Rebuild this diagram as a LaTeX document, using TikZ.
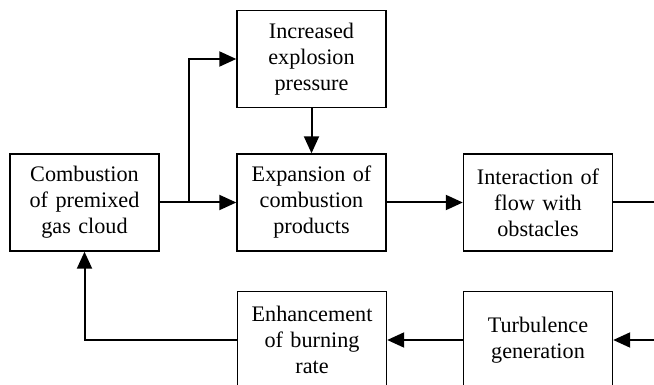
\documentclass[tikz,border=0pt]{standalone}
\usepackage{fontspec}
\setmainfont{Liberation Serif}
\usetikzlibrary{arrows.meta}
\begin{document}
\begin{tikzpicture}[x=1pt,y=-1pt,
  stagebox/.style={draw, line width=1.4pt, minimum width=149pt, minimum height=97pt,
    text width=145pt, align=center, inner sep=0pt,
    font=\fontsize{22.2}{26}\selectfont},
  flow/.style={line width=2pt, -{Triangle[length=17pt,width=15pt]}},
  plainflow/.style={line width=2pt}]
\useasboundingbox (0,0) rectangle (654,385);
\clip (0,0) rectangle (654,385);

\node[stagebox] (comb) at (84.5,202.5) {Combustion\\of premixed\\gas cloud};
\node[stagebox] (press) at (311.5,59) {Increased\\explosion\\pressure};
\node[stagebox] (expan) at (311.5,202.5) {Expansion of\\combustion\\products};
\node[stagebox] (inter) at (538,202.5) {Interaction of\\flow with\\obstacles};
\node[stagebox] (turb) at (538,340) {Turbulence\\generation};
\node[stagebox] (burn) at (312,340) {Enhancement\\of burning\\rate};

\coordinate (split) at (189,202.5);
\coordinate (outR) at (670,202.5);
\coordinate (inR) at (670,340);

\draw[flow] (comb.east) -- (expan.west);
\draw[flow] (split) |- (press.west);
\draw[flow] (press.south) -- (expan.north);
\draw[flow] (expan.east) -- (inter.west);
\draw[plainflow] (inter.east) -- (outR);
\draw[flow] (inR) -- (turb.east);
\draw[flow] (turb.west) -- (burn.east);
\draw[flow] (burn.west) -| (comb.south);
\end{tikzpicture}
\end{document}
